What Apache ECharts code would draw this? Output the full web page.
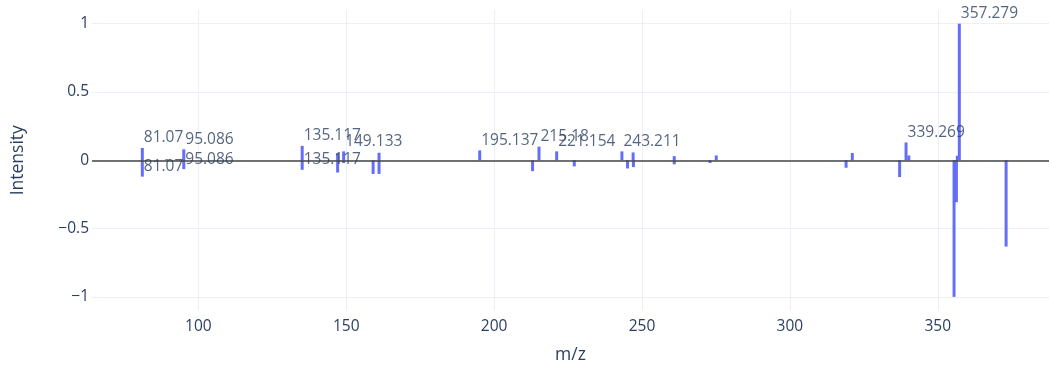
<!DOCTYPE html>
<html>
<head>
<meta charset="utf-8">
<script src="https://cdn.jsdelivr.net/npm/echarts@6/dist/echarts.min.js"></script>
<style>
html,body{margin:0;padding:0;background:#fff;}
#chart{width:1049px;height:371px;}
</style>
</head>
<body>
<div id="chart"></div>
<script>
// Tick labels
const mzTicks = [100, 150, 200, 250, 300, 350];
const intensityTicks = [-1, -0.5, 0, 0.5, 1];
const mzRange = [64.06, 387.6];
const intensityRange = [-1.1, 1.1];

// Top (positive) spectrum
const topMz = [81.07, 89.3, 95.086, 135.117, 147.1, 149.133, 161.1, 195.137, 215.18, 221.154, 243.211, 247.0, 260.9, 275.1, 321.1, 339.269, 340.2, 356.6, 357.279];
const topIntensity = [0.09, 0.008, 0.08, 0.105, 0.05, 0.065, 0.055, 0.072, 0.10, 0.065, 0.065, 0.057, 0.03, 0.035, 0.053, 0.13, 0.035, 0.033, 1.0];

// Bottom (negative, mirrored) spectrum
const bottomMz = [81.07, 95.086, 135.117, 147.1, 149.1, 159.1, 161.1, 213.0, 227.1, 245.1, 247.1, 260.9, 273.0, 319.0, 337.1, 355.5, 356.3, 373.1];
const bottomIntensity = [-0.12, -0.065, -0.07, -0.09, -0.02, -0.1, -0.1, -0.08, -0.045, -0.06, -0.05, -0.03, -0.02, -0.055, -0.123, -1.0, -0.307, -0.632];

// Peak annotations
const labelMz = [81.07, 95.086, 135.117, 149.133, 195.137, 215.18, 221.154, 243.211, 339.269, 357.279, 81.07, 95.086, 135.117];
const labelIntensity = [0.09, 0.08, 0.105, 0.065, 0.072, 0.10, 0.065, 0.065, 0.13, 1.0, -0.12, -0.065, -0.07];
const labelText = ['81.07', '95.086', '135.117', '149.133', '195.137', '215.18', '221.154', '243.211', '339.269', '357.279', '81.07', '95.086', '135.117'];

const FONT = "'Open Sans', verdana, arial, sans-serif";
const TXT = '#2a3f5f';
const BAR = '#636efa';

const chart = echarts.init(document.getElementById('chart'), null, {renderer: 'canvas'});
const fmt = v => String(v).replace('-', '\u2212');

chart.setOption({
  animation: false,
  backgroundColor: '#fff',
  grid: {left: 92, right: 0, top: 10, bottom: 60.5, containLabel: false},
  xAxis: {
    type: 'value',
    min: mzRange[0], max: mzRange[1],
    name: 'm/z', nameLocation: 'middle', nameGap: 36,
    nameTextStyle: {color: TXT, fontFamily: FONT, fontSize: 17.5},
    axisLine: {show: false},
    axisTick: {show: false, customValues: mzTicks},
    axisLabel: {customValues: mzTicks, color: TXT, fontFamily: FONT, fontSize: 15.5, margin: 8, formatter: fmt},
    splitLine: {show: true, lineStyle: {color: '#ebf0f8', width: 1}}
  },
  yAxis: {
    type: 'value',
    min: intensityRange[0], max: intensityRange[1],
    name: 'Intensity', nameLocation: 'middle', nameGap: 65,
    nameTextStyle: {color: TXT, fontFamily: FONT, fontSize: 17.5},
    axisLine: {show: false},
    axisTick: {show: false, customValues: intensityTicks},
    axisLabel: {customValues: intensityTicks, color: TXT, fontFamily: FONT, fontSize: 15.5, margin: 3, formatter: fmt},
    splitLine: {show: true, lineStyle: {color: '#ebf0f8', width: 1}}
  },
  series: [
    {
      type: 'bar', name: 'top', barWidth: 3, barGap: '-100%',
      itemStyle: {color: BAR},
      data: topMz.map((m, i) => [m, topIntensity[i]])
    },
    {
      type: 'bar', name: 'bottom', barWidth: 3, barGap: '-100%',
      itemStyle: {color: BAR},
      data: bottomMz.map((m, i) => [m, bottomIntensity[i]])
    },
    {
      type: 'scatter', name: 'labels', symbolSize: 1, z: 5,
      itemStyle: {color: 'rgba(0,0,0,0)'},
      label: {
        show: true, position: [2, -1.5], align: 'left', verticalAlign: 'bottom',
        color: TXT, fontFamily: FONT, fontSize: 15.5,
        formatter: p => p.data[2]
      },
      markLine: {
        silent: true, symbol: 'none', z: 4,
        label: {show: false},
        lineStyle: {color: '#444', width: 1.5, type: 'solid'},
        data: [{yAxis: intensityTicks[2]}]
      },
      data: labelMz.map((m, i) => [m, labelIntensity[i], labelText[i]])
    }
  ]
});
</script>
</body>
</html>
